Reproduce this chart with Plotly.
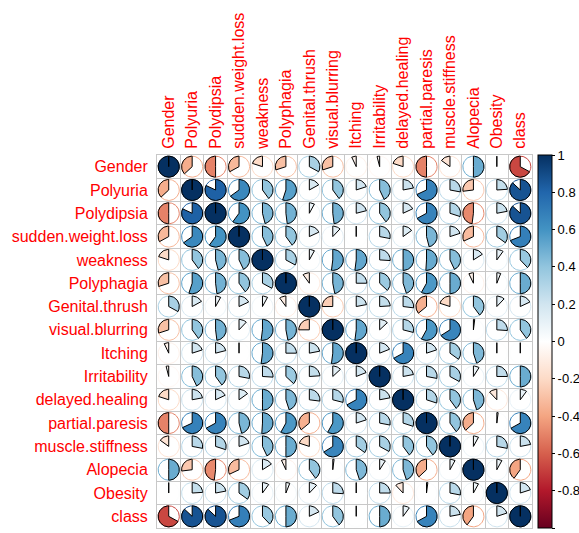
import numpy as np
import plotly.graph_objects as go

variables = ["Gender", "Polyuria", "Polydipsia", "sudden.weight.loss", "weakness",
             "Polyphagia", "Genital.thrush", "visual.blurring", "Itching", "Irritability",
             "delayed.healing", "partial.paresis", "muscle.stiffness", "Alopecia",
             "Obesity", "class"]

# Upper triangle of the correlation matrix, each row starting at its diagonal
r_gender = [1, -0.37, -0.5, -0.33, -0.2, -0.3, 0.33, -0.3, -0.07, -0.04, -0.2, -0.5, -0.15, 0.5, 0.01, -0.67]
r_polyuria = [1, 0.82, 0.65, 0.4, 0.55, 0.17, 0.4, 0.2, 0.43, 0.22, 0.68, 0.28, -0.27, 0.24, 0.87]
r_polydipsia = [1, 0.6, 0.46, 0.48, 0.08, 0.48, 0.21, 0.4, 0.18, 0.67, 0.3, -0.48, 0.22, 0.87]
r_weight_loss = [1, 0.43, 0.4, 0.18, 0.12, 0.01, 0.28, 0.15, 0.46, 0.2, -0.32, 0.35, 0.69]
r_weakness = [1, 0.33, 0.08, 0.52, 0.52, 0.26, 0.5, 0.51, 0.43, 0.16, 0.1, 0.38]
r_polyphagia = [1, -0.1, 0.47, 0.25, 0.37, 0.45, 0.58, 0.5, -0.07, 0.06, 0.5]
r_thrush = [1, -0.25, 0.22, 0.24, 0.27, -0.36, -0.2, 0.4, 0.12, 0.18]
r_blurring = [1, 0.52, 0.13, 0.29, 0.58, 0.66, 0.02, 0.26, 0.4]
r_itching = [1, 0.19, 0.67, 0.2, 0.35, 0.45, 0.01, 0.01]
r_irritability = [1, 0.22, 0.28, 0.33, 0.09, 0.25, 0.5]
r_healing = [1, 0.3, 0.4, 0.45, -0.12, 0.1]
r_paresis = [1, 0.4, -0.37, 0.02, 0.67]
r_stiffness = [1, 0.08, 0.28, 0.22]
r_alopecia = [1, 0.08, -0.4]
r_obesity = [1, 0.2]
r_class = [1]

upper_rows = [r_gender, r_polyuria, r_polydipsia, r_weight_loss, r_weakness, r_polyphagia,
              r_thrush, r_blurring, r_itching, r_irritability, r_healing, r_paresis,
              r_stiffness, r_alopecia, r_obesity, r_class]

n = len(variables)
corr = np.zeros((n, n))
for i, row in enumerate(upper_rows):
    for k, v in enumerate(row):
        corr[i, i + k] = v
        corr[i + k, i] = v

# RdBu diverging palette (dark red -> white -> dark blue)
palette = ["#67001F", "#B2182B", "#D6604D", "#F4A582", "#FDDBC7", "#FFFFFF",
           "#D1E5F0", "#92C5DE", "#4393C3", "#2166AC", "#053061"]
pal_rgb = [tuple(int(h[i:i + 2], 16) for i in (1, 3, 5)) for h in palette]


def value_color(v):
    pos = (v + 1) / 2 * (len(pal_rgb) - 1)
    lo = int(np.floor(pos))
    lo = min(max(lo, 0), len(pal_rgb) - 2)
    t = pos - lo
    c = [round(a + (b - a) * t) for a, b in zip(pal_rgb[lo], pal_rgb[lo + 1])]
    return "rgb({},{},{})".format(*c)


radius = 0.45
fig = go.Figure()

theta_full = np.linspace(0, 2 * np.pi, 73)
for i in range(n):
    for j in range(n):
        v = corr[i, j]
        col = value_color(v)
        cx, cy = j + 1, i + 1
        # outer circle in the cell colour
        fig.add_trace(go.Scatter(
            x=cx + radius * np.cos(theta_full), y=cy - radius * np.sin(theta_full),
            mode="lines", line=dict(color=col, width=1),
            hoverinfo="skip", showlegend=False))
        # pie wedge starting at 12 o'clock, clockwise for positive values
        npts = max(2, int(abs(v) * 72) + 1)
        ang = np.pi / 2 - np.sign(v) * np.linspace(0, 2 * np.pi * abs(v), npts)
        px = np.concatenate([[cx], cx + radius * np.cos(ang), [cx]])
        py = np.concatenate([[cy], cy - radius * np.sin(ang), [cy]])
        fig.add_trace(go.Scatter(
            x=px, y=py, mode="lines", fill="toself", fillcolor=col,
            line=dict(color="black", width=1),
            hoverinfo="skip", showlegend=False))

# colour bar
colorscale = [[k / (len(palette) - 1), c] for k, c in enumerate(palette)]
fig.add_trace(go.Scatter(
    x=[None], y=[None], mode="markers",
    marker=dict(color=[0], cmin=-1, cmax=1, colorscale=colorscale, showscale=True,
                colorbar=dict(
                    x=1.016, xanchor="left", xref="paper", xpad=0, ypad=0,
                    y=0.5, yanchor="middle", len=1, lenmode="fraction",
                    thickness=14, outlinecolor="black", outlinewidth=1,
                    tickvals=[-1, -0.8, -0.6, -0.4, -0.2, 0, 0.2, 0.4, 0.6, 0.8, 1],
                    ticktext=["-1", "-0.8", "-0.6", "-0.4", "-0.2", "0", "0.2", "0.4", "0.6", "0.8", "1"],
                    ticks="outside", ticklen=3, tickcolor="black",
                    tickfont=dict(size=13, color="black", family="Liberation Sans, Arial"))),
    hoverinfo="skip", showlegend=False))

label_font = dict(size=16, color="#FF0000", family="Liberation Sans, Arial")
grid_color = "#C8C8C8"

fig.update_xaxes(
    range=[0.5, n + 0.5], side="top", tickmode="array",
    tickvals=list(range(1, n + 1)), ticktext=variables, tickangle=-90,
    tickfont=label_font, ticks="outside", ticklen=2, tickcolor="rgba(0,0,0,0)",
    showgrid=False, zeroline=False, automargin=False,
    minor=dict(tick0=0.5, dtick=1, showgrid=True, gridcolor=grid_color, gridwidth=1),
    showline=True, linecolor=grid_color, linewidth=1, mirror=True)
fig.update_yaxes(
    range=[n + 0.5, 0.5], tickmode="array",
    tickvals=list(range(1, n + 1)), ticktext=variables,
    tickfont=label_font, ticks="outside", ticklen=5, tickcolor="rgba(0,0,0,0)",
    showgrid=False, zeroline=False, automargin=False,
    minor=dict(tick0=0.5, dtick=1, showgrid=True, gridcolor=grid_color, gridwidth=1),
    showline=True, linecolor=grid_color, linewidth=1, mirror=True)

fig.update_layout(
    width=579, height=533,
    margin=dict(l=157, r=47, t=155, b=5, autoexpand=False),
    paper_bgcolor="white", plot_bgcolor="white",
    showlegend=False)

fig.write_html("out.html")
